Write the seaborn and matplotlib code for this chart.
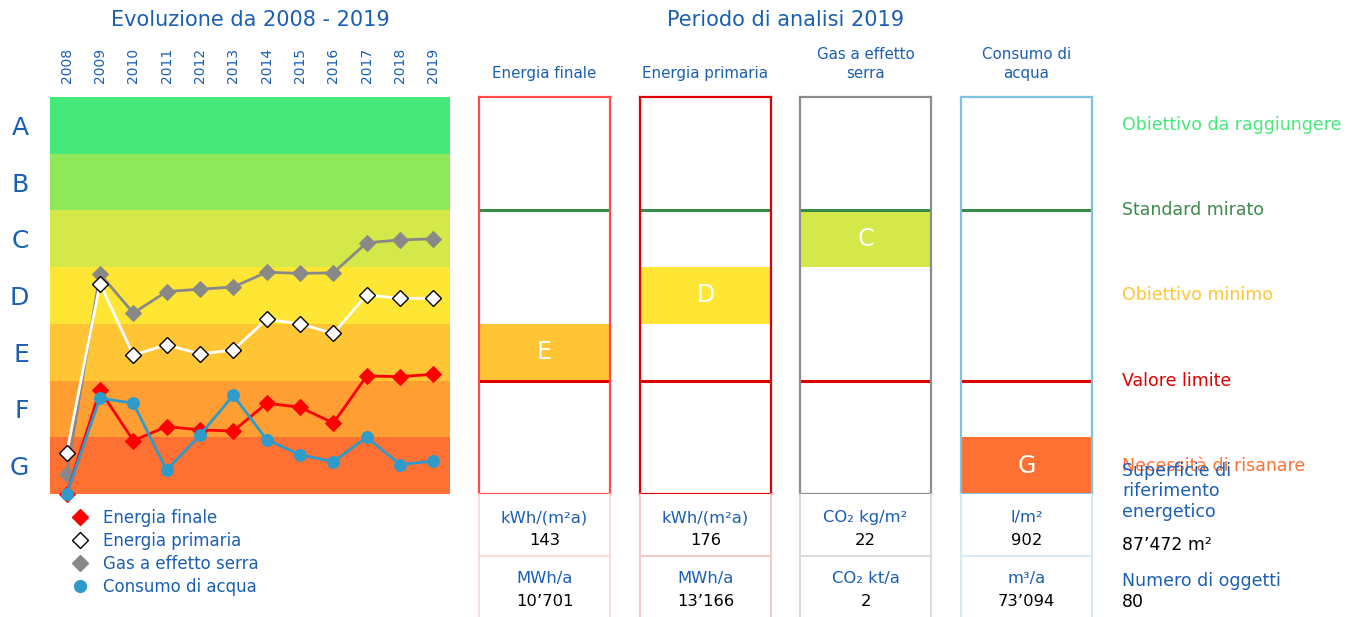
import numpy as np
import pandas as pd
import seaborn as sns
import matplotlib.pyplot as plt
from matplotlib.lines import Line2D

# --- data ---
years = list(range(2008, 2020))
classi = ['A', 'B', 'C', 'D', 'E', 'F', 'G']
colori_classi = ['#46e87a', '#8ee85a', '#d4e84a', '#ffe634', '#ffc535', '#ff9f33', '#ff7033']

# position on the class scale (0 = top of A, 7 = bottom of G)
energia_finale = [7.00, 5.17, 6.06, 5.81, 5.87, 5.89, 5.40, 5.47, 5.75, 4.92, 4.93, 4.89]
energia_primaria = [6.28, 3.29, 4.55, 4.37, 4.53, 4.46, 3.92, 4.00, 4.17, 3.49, 3.55, 3.55]
gas_serra = [6.65, 3.12, 3.81, 3.43, 3.39, 3.35, 3.09, 3.11, 3.10, 2.57, 2.52, 2.50]
consumo_acqua = [7.00, 5.31, 5.40, 6.58, 5.96, 5.26, 6.04, 6.31, 6.43, 6.00, 6.48, 6.42]

indicatori = ['Energia finale', 'Energia primaria', 'Gas a effetto\nserra', 'Consumo di\nacqua']
classe_2019 = ['E', 'D', 'C', 'G']
unita_1 = ['kWh/(m²a)', 'kWh/(m²a)', 'CO₂ kg/m²', 'l/m²']
valori_1 = ['143', '176', '22', '902']
unita_2 = ['MWh/a', 'MWh/a', 'CO₂ kt/a', 'm³/a']
valori_2 = ['10’701', '13’166', '2', '73’094']

soglie = ['Obiettivo da raggiungere', 'Standard mirato', 'Obiettivo minimo',
          'Valore limite', 'Necessità di risanare']
soglie_pos = [0.5, 2, 3.5, 5, 6.5]
soglie_col = ['#46e87a', '#3a8a4a', '#ffc535', '#e00000', '#ff7033']

BLU = '#1a5fb4'
W, H = 1356, 617

sns.set_theme(style='white')
plt.rcParams['font.family'] = ['DejaVu Sans']

fig = plt.figure(figsize=(W / 100, H / 100), dpi=100)


def px_axes(x0, y0, x1, y1):
    return fig.add_axes([x0 / W, 1 - y1 / H, (x1 - x0) / W, (y1 - y0) / H])


# --- left: evolution chart ---
ax = px_axes(50, 97, 450, 494)
for i, c in enumerate(colori_classi):
    ax.axhspan(i, i + 1, color=c, lw=0, zorder=0)

serie = [
    (gas_serra, dict(color='#888888', marker='D', markersize=8.5, markeredgecolor='#888888')),
    (energia_primaria, dict(color='white', marker='D', markersize=8.5, markerfacecolor='white',
                            markeredgecolor='black', markeredgewidth=1)),
    (energia_finale, dict(color='#ff0000', marker='D', markersize=8.5, markeredgecolor='#ff0000')),
    (consumo_acqua, dict(color='#2e9bcb', marker='o', markersize=8.5, markeredgecolor='#2e9bcb')),
]
for vals, kw in serie:
    df = pd.DataFrame({'anno': years, 'classe': vals})
    sns.lineplot(data=df, x='anno', y='classe', ax=ax, linewidth=2, clip_on=False, **kw)

ax.set_xlim(2007.5, 2019.5)
ax.set_ylim(7, 0)
ax.xaxis.tick_top()
ax.set_xticks(years)
ax.set_xticklabels([str(y) for y in years], rotation=90, fontsize=10, color=BLU)
ax.set_yticks([i + 0.5 for i in range(7)])
ax.set_yticklabels(classi, fontsize=18, color=BLU)
ax.tick_params(axis='x', length=0, pad=10)
ax.tick_params(axis='y', length=0, pad=15)
ax.set_xlabel('')
ax.set_ylabel('')
for s in ax.spines.values():
    s.set_visible(False)

fig.text(250 / W, 1 - 20 / H, 'Evoluzione da 2008 - 2019', ha='center', va='center',
         fontsize=15, color=BLU)
fig.text(786 / W, 1 - 20 / H, 'Periodo di analisi 2019', ha='center', va='center',
         fontsize=15, color=BLU)

# legend
handles = [
    Line2D([], [], ls='none', marker='D', ms=8.5, color='#ff0000'),
    Line2D([], [], ls='none', marker='D', ms=8.5, mfc='white', mec='black', mew=1),
    Line2D([], [], ls='none', marker='D', ms=8.5, color='#888888'),
    Line2D([], [], ls='none', marker='o', ms=8.5, color='#2e9bcb'),
]
labels = ['Energia finale', 'Energia primaria', 'Gas a effetto serra', 'Consumo di acqua']
leg = fig.legend(handles, labels, loc='upper left', bbox_to_anchor=(62 / W, 1 - 501 / H),
                 frameon=False, fontsize=12, handlelength=1.2, handletextpad=0.78,
                 labelspacing=0.3, borderpad=0)
for t in leg.get_texts():
    t.set_color(BLU)

# --- right: 2019 boxes ---
box_x = [479, 640, 800, 961]
box_col = ['#ff4b4b', '#e00000', '#8c8c8c', '#7fc1e0']
cell_col = ['#ffd6d6', '#f4c0c0', '#d4d4d4', '#cfe6f2']
for k in range(4):
    x0 = box_x[k]
    bx = px_axes(x0, 97, x0 + 131, 494)
    bx.set_xlim(0, 1)
    bx.set_ylim(7, 0)
    ci = classi.index(classe_2019[k])
    bx.axhspan(ci, ci + 1, color=colori_classi[ci], lw=0)
    bx.text(0.5, ci + 0.5, classe_2019[k], ha='center', va='center', color='white', fontsize=17)
    bx.axhline(2, color='#3a8a4a', lw=2.2)
    bx.axhline(5, color='#e00000', lw=2.2)
    bx.set_xticks([])
    bx.set_yticks([])
    for s in bx.spines.values():
        s.set_color(box_col[k])
        s.set_linewidth(1.6)
    fig.text((x0 + 65.5) / W, 1 - 81 / H, indicatori[k], ha='center', va='bottom',
             fontsize=10.8, color=BLU, linespacing=1.3)

    cx = px_axes(x0, 494, x0 + 131, 617)
    cx.set_xlim(0, 1)
    cx.set_ylim(0, 1)
    cx.set_xticks([])
    cx.set_yticks([])
    for side, s in cx.spines.items():
        s.set_color(cell_col[k])
        s.set_linewidth(1.2)
        if side in ('top', 'bottom'):
            s.set_visible(False)
    cx.axhline(0.496, color=cell_col[k], lw=1.2)
    cx.text(0.5, 0.805, unita_1[k], ha='center', va='center', fontsize=11.8, color=BLU)
    cx.text(0.5, 0.626, valori_1[k], ha='center', va='center', fontsize=11.8, color='black')
    cx.text(0.5, 0.309, unita_2[k], ha='center', va='center', fontsize=11.8, color=BLU)
    cx.text(0.5, 0.130, valori_2[k], ha='center', va='center', fontsize=11.8, color='black')

    if k == 3:
        tr = bx.get_yaxis_transform()
        lx = (1122 - x0) / 131
        for lab, pos, col in zip(soglie, soglie_pos, soglie_col):
            bx.text(lx, pos, lab, transform=tr, ha='left', va='center', fontsize=12.5,
                    color=col, clip_on=False)

fig.text(1122 / W, 1 - 462 / H, 'Superficie di\nriferimento\nenergetico', ha='left', va='top',
         fontsize=12.5, color=BLU, linespacing=1.17)
fig.text(1122 / W, 1 - 545 / H, '87’472 m²', ha='left', va='center', fontsize=12.5, color='black')
fig.text(1122 / W, 1 - 581 / H, 'Numero di oggetti', ha='left', va='center', fontsize=12.5, color=BLU)
fig.text(1122 / W, 1 - 602 / H, '80', ha='left', va='center', fontsize=12.5, color='black')

fig.savefig('out.png', dpi=100)
